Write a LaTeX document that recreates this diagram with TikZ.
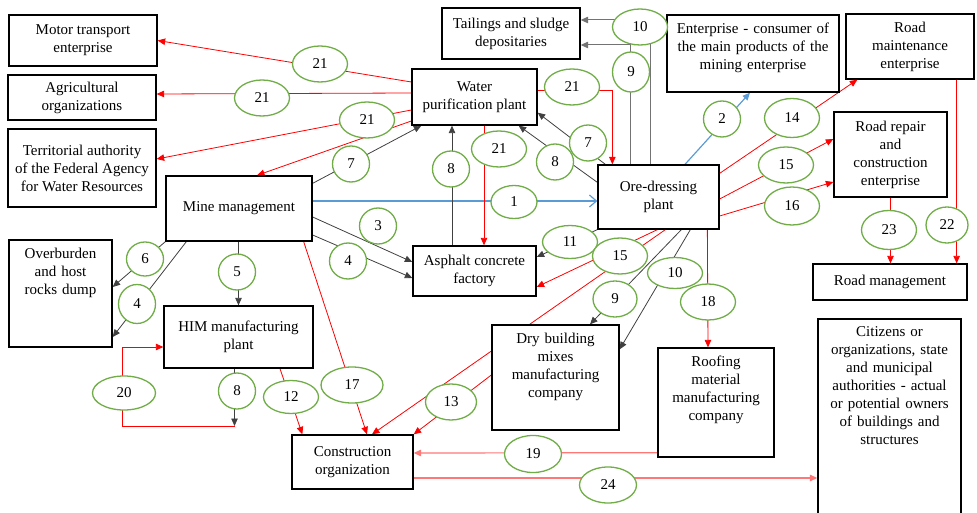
\documentclass[tikz,border=0pt]{standalone}
\usepackage{fontspec}
\setmainfont{Liberation Serif}
\usepackage{xcolor}
\usepackage{tikz}
\usetikzlibrary{shapes.geometric,arrows.meta}

\definecolor{ovalgreen}{RGB}{112,173,71}
\definecolor{linkblue}{RGB}{91,155,213}
\definecolor{softred}{RGB}{255,120,120}
\pgfdeclarelayer{links}
\pgfsetlayers{links,main}
\newcommand{\toptxt}[2]{\parbox[c][#1][t]{\linewidth}{\centering\vspace*{8pt}#2\par}}

\tikzset{
  box/.style={draw, line width=1.3pt, fill=white, align=center, inner sep=2pt},
  tbox/.style={draw, line width=1.3pt, fill=white, inner sep=0pt, text width=#1},
  num/.style={ellipse, draw=ovalgreen, line width=1.3pt, fill=white, inner sep=0pt,
    minimum width=37pt, minimum height=36pt},
  wnum/.style={num, minimum width=55pt},
  link/.style={draw=black!75, line width=0.8pt, -{Triangle[length=7.5pt,width=6.5pt]}},
  redlink/.style={link, draw=red},
  pinklink/.style={link, draw=softred, line width=1.2pt},
  graylink/.style={link, draw=black!55, line width=1pt},
  bluelink/.style={link, draw=linkblue, line width=1.2pt}
}

\begin{document}
\begin{tikzpicture}[x=1pt,y=-1pt,every node/.append style={font=\fontsize{15}{18}\selectfont}]
\useasboundingbox (0,0) rectangle (977,513);
\clip (0,0) rectangle (977,513);

% boxes
\node[box, minimum width=148pt, minimum height=51pt] (motor) at (83,40.5) {Motor transport\\enterprise};
\node[box, minimum width=148pt, minimum height=45pt] (agri) at (82,97.5) {Agricultural\\organizations};
\node[box, minimum width=148pt, minimum height=78pt] (terr) at (82,168) {Territorial authority\\of the Federal Agency\\for Water Resources};
\node[box, minimum width=146pt, minimum height=65pt] (mine) at (239,208.5) {Mine management};
\node[box, minimum width=138pt, minimum height=51pt] (tail) at (511,33.5) {Tailings and sludge\\depositaries};
\node[box, minimum width=125pt, minimum height=56pt] (water) at (474.5,97) {Water\\purification plant};
\node[box, minimum width=121pt, minimum height=64pt] (ore) at (658.5,197) {Ore-dressing\\plant};
\node[box, minimum width=123pt, minimum height=50pt] (asph) at (474.5,271) {Asphalt concrete\\factory};
\node[tbox=172pt] (cons) at (753,53.5) {\toptxt{77pt}{Enterprise - consumer of\\the main products of the\\mining enterprise}};
\node[box, minimum width=128pt, minimum height=65pt] (maint) at (910,46.5) {Road\\maintenance\\enterprise};
\node[box, minimum width=113pt, minimum height=85pt] (repair) at (890.5,154.5) {Road repair\\and\\construction\\enterprise};
\node[box, minimum width=154pt, minimum height=36pt] (roadm) at (890,282) {Road management};
\node[tbox=103pt] (overb) at (60.5,293.5) {\toptxt{107pt}{Overburden\\and host\\rocks dump}};
\node[box, minimum width=149pt, minimum height=62pt] (him) at (238.5,337) {HIM manufacturing\\plant};
\node[box, minimum width=121pt, minimum height=54pt] (constr) at (352.5,462) {Construction\\organization};
\node[tbox=127pt] (dry) at (555.5,377.5) {\toptxt{105pt}{Dry building\\mixes\\manufacturing\\company}};
\node[tbox=116pt] (roof) at (716,402.5) {\toptxt{109pt}{Roofing\\material\\manufacturing\\company}};
\node[tbox=143pt] (citiz) at (889.5,419) {\toptxt{200pt}{Citizens or\\organizations, state\\and municipal\\authorities - actual\\or potential owners\\of buildings and\\structures}};
\coordinate (hd) at (234.5,426);
\coordinate (lp) at (122,347);

% connectors
\begin{pgfonlayer}{links}
\draw[bluelink, -{Straight Barb[length=7pt,width=12pt]}] ([yshift=7.5pt]mine.east) -- ([yshift=-4pt]ore.west);
\draw[bluelink] ([xshift=26.5pt]ore.north) -- ([xshift=-3pt]cons.south);
\draw[link] ([yshift=-8.5pt]mine.east) -- ([yshift=9pt]asph.west);
\draw[link] ([yshift=-26.5pt]mine.east) -- ([yshift=-7pt]asph.west);
\draw[link] (mine.south west) -- ([yshift=6.5pt]overb.east);
\draw[link] ([xshift=21pt]mine.south west) -- ([yshift=-43.5pt]overb.east);
\draw[link] (him.north |- mine.south) -- (him.north);
\draw[link] ([yshift=-8pt]mine.north east) -- ([xshift=10pt]water.south west);
\draw[link] ([xshift=-22.5pt]asph.north) -- ([xshift=-22.5pt]water.south);
\draw[redlink] ([xshift=9.5pt]water.south) -- ([xshift=9.5pt]asph.north);
\draw[link] ([yshift=-18pt]ore.north west) -- ([xshift=-19pt]water.south east);
\draw[link] ([xshift=8pt]ore.north west) -- ([yshift=13pt]water.south east);
\draw[redlink] ([yshift=7pt]water.east) -| ([xshift=15pt]ore.north west);
\draw[graylink] ([xshift=33pt]ore.north west) |- ([yshift=-11.5pt]tail.east);
\draw[graylink] ([xshift=53pt]ore.north west) |- ([yshift=13.5pt]tail.east);
\draw[link] (ore.south west) -- ([yshift=14pt]asph.east);
\draw[redlink] ([xshift=60pt]ore.south west) -- ([yshift=-16pt]asph.east);
\draw[redlink] ([xshift=68pt]ore.south west) -- ([xshift=19.5pt]constr.north);
\draw[link] ([xshift=84pt]ore.south west) -- ([xshift=34.5pt]dry.north);
\draw[link] ([xshift=93pt]ore.south west) -- ([yshift=-25pt]dry.north east);
\draw[redlink] ([xshift=110pt]ore.south west) -- ([xshift=-8pt]roof.north);
\draw[redlink] ([yshift=-9pt]ore.north east) -- ([xshift=12pt]maint.south west);
\draw[redlink] ([yshift=-2pt]ore.east) -- ([yshift=15.5pt]repair.west);
\draw[redlink] ([yshift=-19pt]ore.east) -- ([yshift=-27.5pt]repair.west);
\draw[redlink] ([xshift=-18pt]maint.south east) -- ([xshift=-11pt]roadm.north east);
\draw[redlink] (repair.south) -- (repair.south |- roadm.north);
\draw[redlink] ([yshift=15pt]water.west) -- (motor.east);
\draw[redlink] ([yshift=4pt]water.west) -- ([yshift=3.5pt]agri.east);
\draw[redlink] ([yshift=-13pt]water.west) -- ([yshift=9pt]terr.east);
\draw[redlink] ([yshift=-24pt]water.west) -- ([xshift=18pt]mine.north);
\draw[redlink] ([xshift=-9pt]mine.south east) -- ([xshift=14.5pt]constr.north);
\draw[redlink] ([xshift=41.5pt]him.south) -- ([xshift=11pt]constr.north west);
\draw[redlink] (hd) -| (lp) -- ([yshift=-10pt]him.west);
\draw[link] ([xshift=-4pt]him.south) -- (hd);
\draw[redlink] ([yshift=2.5pt]dry.west) -- (constr.north east);
\draw[pinklink] ([yshift=5pt]roof.south west) -- ([yshift=9pt]constr.east);
\draw[pinklink] ([yshift=-16pt]constr.east) -- ([yshift=-59pt]citiz.west);
\end{pgfonlayer}

% flow numbers
\node[wnum] (e21a) at (320,64) {21};
\node[wnum] (e21b) at (262,98) {21};
\node[wnum] (e21c) at (367,120) {21};
\node[wnum] (e21d) at (572,87) {21};
\node[wnum] (e21e) at (499,149) {21};
\node[num] (e7a) at (351,164) {7};
\node[num] (e8a) at (451,169) {8};
\node[num] (e8b) at (555,162) {8};
\node[num] (e7b) at (588,143) {7};
\node[wnum] (e10a) at (640,27) {10};
\node[num, minimum height=40pt] (e9a) at (631,72) {9};
\node[num, minimum width=46pt, minimum height=33pt] (e1) at (514,202) {1};
\node[num] (e3) at (378,226) {3};
\node[num] (e4a) at (348,261) {4};
\node[wnum, minimum height=33pt] (e11) at (570,242) {11};
\node[wnum] (e15a) at (620,256) {15};
\node[wnum, minimum height=31pt] (e10b) at (675,273) {10};
\node[num, minimum width=44pt] (e9b) at (615,299) {9};
\node[wnum] (e18) at (708,302) {18};
\node[num] (e2) at (722,119) {2};
\node[wnum, minimum height=39pt] (e14) at (792,118) {14};
\node[wnum] (e15b) at (786,165) {15};
\node[wnum, minimum height=38pt] (e16) at (792,206) {16};
\node[wnum, minimum height=39pt] (e23) at (889,230) {23};
\node[num, minimum width=42pt] (e22) at (947,225) {22};
\node[num, minimum height=34pt] (e6) at (145,259) {6};
\node[num, minimum height=39pt] (e4b) at (137,304) {4};
\node[num] (e5) at (237,272) {5};
\node[wnum, minimum width=63pt, minimum height=34pt] (e20) at (124,393) {20};
\node[num] (e8c) at (237,391) {8};
\node[wnum, minimum height=33pt] (e12) at (291,397) {12};
\node[wnum, minimum width=62pt] (e17) at (352,385) {17};
\node[wnum, minimum width=51pt] (e13) at (451,402) {13};
\node[wnum, minimum width=57pt, minimum height=37pt] (e19) at (533,454) {19};
\node[wnum, minimum width=57pt] (e24) at (608,485) {24};
\end{tikzpicture}
\end{document}
